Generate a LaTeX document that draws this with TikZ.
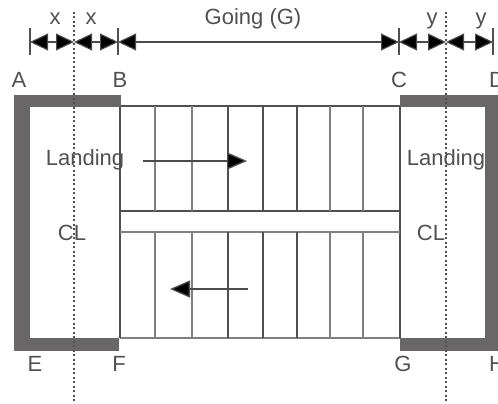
\documentclass[tikz,border=0pt]{standalone}
\usepackage{fontspec}
\setmainfont{Liberation Sans}
\usetikzlibrary{arrows.meta}
\definecolor{wallgray}{HTML}{686666}
\definecolor{inkgray}{HTML}{505050}

\begin{document}
\begin{tikzpicture}[
		x=1pt, y=-1pt,
		wall/.style={fill=wallgray},
		edge/.style={draw=inkgray, line width=1.2pt},
		tread/.style={draw=black!50, line width=1.5pt},
		tick/.style={draw=inkgray, line width=1.2pt},
		centre/.style={draw=inkgray, line width=1.2pt, dash pattern=on 2pt off 2.5pt},
		dim/.style={{Triangle[length=18pt,width=17pt,fill=black]}-{Triangle[length=18pt,width=17pt,fill=black]}, draw=black!70, line width=1.1pt},
		flow/.style={-{Triangle[length=20pt,width=17pt,fill=black]}, draw=black!70, line width=1.3pt},
		label/.style={text=inkgray, font=\fontsize{22}{24}\selectfont, inner sep=0pt}
		]
		\clip (0,0) rectangle (498,404);
		% stair outline
		\draw[edge] (120,106) -- (400,106);
		\draw[tread] (120,338) -- (400,338);
		\draw[edge] (120,107) -- (120,338);
		\draw[edge] (400,107) -- (400,338);
		\draw[edge] (120,211) -- (400,211);
		\draw[tread] (120,232) -- (400,232);
		% treads
		\draw[tread] (155,106) -- (155,211) (155,232) -- (155,338);
		\draw[tread] (192,106) -- (192,211) (192,232) -- (192,338);
		\draw[edge] (228,106) -- (228,211) (228,232) -- (228,338);
		\draw[edge] (263,106) -- (263,211) (263,232) -- (263,338);
		\draw[edge] (297,106) -- (297,211) (297,232) -- (297,338);
		\draw[tread] (330,106) -- (330,211) (330,232) -- (330,338);
		\draw[tread] (363,106) -- (363,211) (363,232) -- (363,338);
		% walls
		\fill[wall] (14,95) rectangle (30,351);
		\fill[wall] (14,95) rectangle (121,107);
		\fill[wall] (30,338) rectangle (119,351);
		\fill[wall] (400,95) rectangle (498,107);
		\fill[wall] (485,95) rectangle (498,351);
		\fill[wall] (400,338) rectangle (485,351);
		% centre lines
		\coordinate (cl1top) at (74,12);
		\coordinate (cl1end) at (74,404);
		\coordinate (cl2top) at (446,12);
		\coordinate (cl2end) at (446,404);
		\draw[centre] (cl1top) -- (cl1end);
		\draw[centre] (cl2top) -- (cl2end);
		% dimension line
		\coordinate (d1) at (30,42);
		\coordinate (d2) at (74,42);
		\coordinate (d3) at (118,42);
		\coordinate (d4) at (399,42);
		\coordinate (d5) at (446,42);
		\coordinate (d6) at (493,42);
		\draw[tick] (30,28) -- (30,55);
		\draw[tick] (118,28) -- (118,55);
		\draw[tick] (399,28) -- (399,55);
		\draw[tick] (493,28) -- (493,55);
		\draw[dim] (d1) -- (d2);
		\draw[dim] (d2) -- (d3);
		\draw[dim] (d3) -- (d4);
		\draw[dim] (d4) -- (d5);
		\draw[dim] (d5) -- (d6);
		% direction arrows
		\coordinate (up1) at (143,161);
		\coordinate (up2) at (247,161);
		\coordinate (dn1) at (248,289);
		\coordinate (dn2) at (170,289);
		\draw[flow] (up1) -- (up2);
		\draw[flow] (dn1) -- (dn2);
		% labels
		\node[label] (x1) at (55,19) {x};
		\node[label] (x2) at (91,19) {x};
		\node[label] (going) at (253,19) {Going (G)};
		\node[label] (y1) at (432,21) {y};
		\node[label] (y2) at (481,21) {y};
		\node[label] (A) at (19,80) {A};
		\node[label] (B) at (120,80) {B};
		\node[label] (C) at (399,80) {C};
		\node[label, anchor=west] (D) at (489,80) {D};
		\node[label] (E) at (35,364) {E};
		\node[label] (F) at (119,364) {F};
		\node[label] (G) at (403,364) {G};
		\node[label, anchor=west] (H) at (489,364) {H};
		\node[label] (land1) at (85,160) {Landing};
		\node[label] (land2) at (446,160) {Landing};
		\node[label] (cl1) at (72,233) {CL};
		\node[label] (cl2) at (431,233) {CL};
	\end{tikzpicture}
\end{document}
